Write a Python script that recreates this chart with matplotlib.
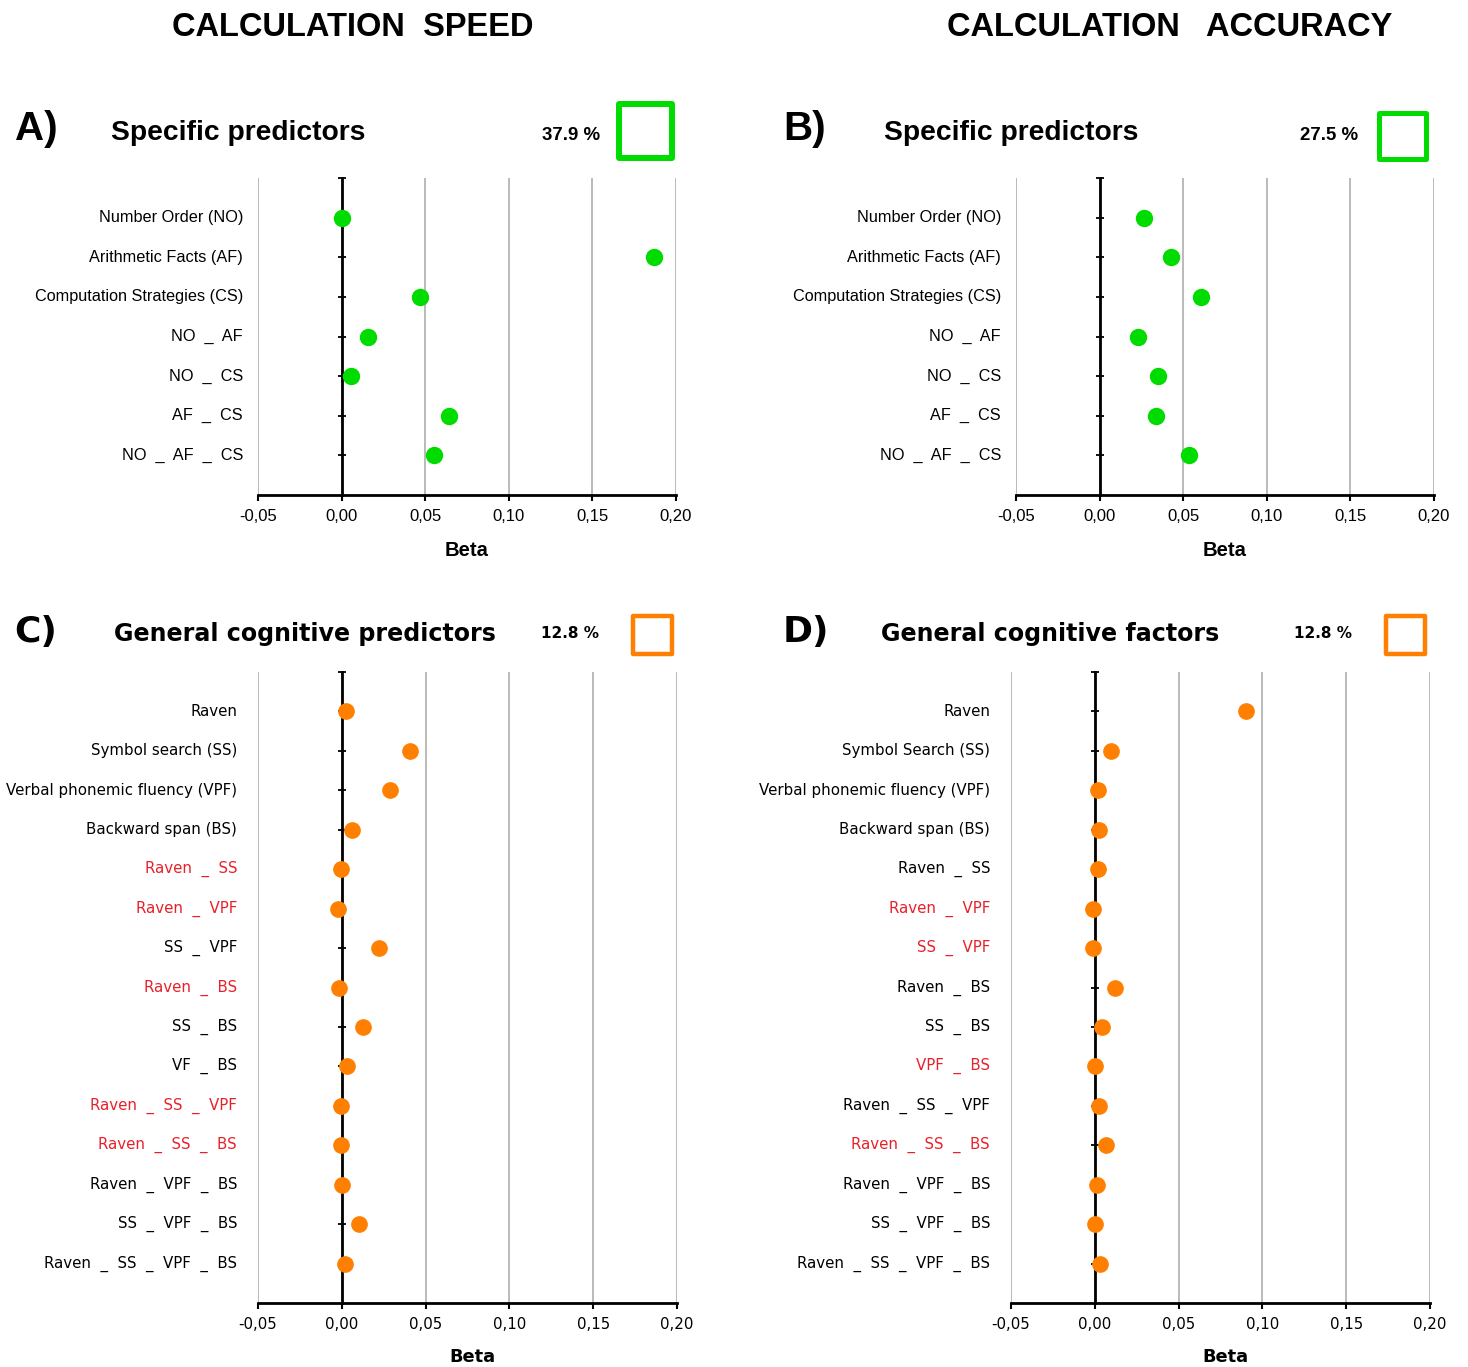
import matplotlib
matplotlib.use("Agg")
import matplotlib.pyplot as plt
import matplotlib.transforms as mtransforms
from matplotlib.patches import Rectangle

W, H = 1468, 1367

# ---------------- data ----------------
labels_a = ["Number Order (NO)", "Arithmetic Facts (AF)", "Computation Strategies (CS)",
            "NO  _  AF", "NO  _  CS", "AF  _  CS", "NO  _  AF  _  CS"]
beta_a = [0.000, 0.187, 0.047, 0.0155, 0.0055, 0.0645, 0.055]

labels_b = labels_a
beta_b = [0.0263, 0.0425, 0.0605, 0.0232, 0.0347, 0.0335, 0.0533]

labels_c = ["Raven", "Symbol search (SS)", "Verbal phonemic fluency (VPF)", "Backward span (BS)",
            "Raven  _  SS", "Raven  _  VPF", "SS  _  VPF", "Raven  _  BS", "SS  _  BS", "VF  _  BS",
            "Raven  _  SS  _  VPF", "Raven  _  SS  _  BS", "Raven  _  VPF  _  BS",
            "SS  _  VPF  _  BS", "Raven  _  SS  _  VPF  _  BS"]
beta_c = [0.0025, 0.0408, 0.0288, 0.0062, -0.0006, -0.0024, 0.0222, -0.0018, 0.0126,
          0.0030, -0.0006, -0.0006, 0.0002, 0.0104, 0.0020]
red_c = [False, False, False, False, True, True, False, True, False, False,
         True, True, False, False, False]

labels_d = ["Raven", "Symbol Search (SS)", "Verbal phonemic fluency (VPF)", "Backward span (BS)",
            "Raven  _  SS", "Raven  _  VPF", "SS  _  VPF", "Raven  _  BS", "SS  _  BS", "VPF  _  BS",
            "Raven  _  SS  _  VPF", "Raven  _  SS  _  BS", "Raven  _  VPF  _  BS",
            "SS  _  VPF  _  BS", "Raven  _  SS  _  VPF  _  BS"]
beta_d = [0.0900, 0.0096, 0.0018, 0.0024, 0.0018, -0.0012, -0.0012, 0.0120, 0.0042,
          0.0000, 0.0024, 0.0066, 0.0012, 0.0000, 0.0030]
red_d = [False, False, False, False, False, True, True, False, False, True,
         False, True, False, False, False]

xticks = [-0.05, 0.00, 0.05, 0.10, 0.15, 0.20]
xtick_labels = ["-0,05", "0,00", "0,05", "0,10", "0,15", "0,20"]

pct = ["37.9 %", "27.5 %", "12.8 %", "12.8 %"]
panel_titles = ["Specific predictors", "Specific predictors",
                "General cognitive predictors", "General cognitive factors"]
panel_letters = ["A)", "B)", "C)", "D)"]

GREEN = "#00dc00"
ORANGE = "#ff8000"
RED = "#e8202a"

fig = plt.figure(figsize=(W / 100, H / 100), dpi=100)


def px_rect(l, t, r, b):
    return [l / W, 1 - b / H, (r - l) / W, (b - t) / H]


def fx(x):
    return x / W


def fy(y):
    return 1 - y / H


def make_panel(rect, labels, vals, color, reds, fam, lab_size, tick_size, lab_off, msize):
    ax = fig.add_axes(rect)
    n = len(labels)
    ys = list(range(1, n + 1))
    ax.set_xlim(-0.05, 0.20)
    ax.set_ylim(n + 1, 0)
    ax.set_xticks(xticks)
    ax.set_xticklabels(xtick_labels, fontsize=tick_size, family=fam)
    ax.xaxis.grid(True, color="#b4b4b4", lw=1.3)
    ax.set_axisbelow(True)
    for s in ["top", "right"]:
        ax.spines[s].set_visible(False)
    ax.spines["left"].set_position(("data", 0))
    ax.spines["left"].set_linewidth(2)
    ax.spines["bottom"].set_linewidth(2)
    ax.set_yticks(list(range(0, n + 1)))
    ax.set_yticklabels([])
    ax.tick_params(axis="y", direction="inout", length=6, width=1.3)
    ax.tick_params(axis="x", direction="out", length=4, width=1.5, pad=6)
    ax.plot(vals, ys, "o", color=color, ms=msize, mec=color, zorder=5, clip_on=False)
    tr = mtransforms.blended_transform_factory(ax.transAxes, ax.transData)
    for i, lab in enumerate(labels):
        c = RED if (reds and reds[i]) else "black"
        ax.text(lab_off, ys[i], lab, transform=tr, ha="right", va="center",
                fontsize=lab_size, family=fam, color=c)
    return ax


axA = make_panel(px_rect(258, 178, 676, 495), labels_a, beta_a, GREEN, None,
                 "Liberation Sans", 11.7, 12, -0.036, 11.5)
axB = make_panel(px_rect(1016, 178, 1434, 495), labels_b, beta_b, GREEN, None,
                 "Liberation Sans", 11.7, 12, -0.036, 11.5)
axC = make_panel(px_rect(258, 672, 677, 1303), labels_c, beta_c, ORANGE, red_c,
                 "DejaVu Sans", 10.8, 10.8, -0.05, 11)
axD = make_panel(px_rect(1011, 672, 1430, 1303), labels_d, beta_d, ORANGE, red_d,
                 "DejaVu Sans", 10.8, 10.8, -0.05, 11)

# column titles
fig.text(fx(353), fy(27), "CALCULATION  SPEED", ha="center", va="center",
         fontsize=23.5, fontweight="bold", family="Liberation Sans")
fig.text(fx(1170), fy(27), "CALCULATION   ACCURACY", ha="center", va="center",
         fontsize=23.5, fontweight="bold", family="Liberation Sans")

# panel headers
hdr = [
    (15, 129, 111, 133, 542, 135, "Liberation Sans", 29, 20.3, 13.4),
    (783, 129, 884, 133, 1300, 136, "Liberation Sans", 29, 20.3, 13.4),
    (14, 632, 114, 634, 541, 634, "DejaVu Sans", 26, 17.1, 11),
    (783, 632, 881, 634, 1294, 634, "DejaVu Sans", 26, 17.1, 11),
]
for k, (lx, ly, tx, ty, px_, py_, fam, s1, s2, s3) in enumerate(hdr):
    fig.text(fx(lx), fy(ly), panel_letters[k], ha="left", va="center",
             fontsize=s1, fontweight="bold", family=fam)
    fig.text(fx(tx), fy(ty), panel_titles[k], ha="left", va="center",
             fontsize=s2, fontweight="bold", family=fam)
    fig.text(fx(px_), fy(py_), pct[k], ha="left", va="center",
             fontsize=s3, fontweight="bold", family=fam)

# colored squares
squares = [
    (619, 104, 672, 158, GREEN, 4.3),
    (1378.5, 112.5, 1425.5, 158.5, GREEN, 3.6),
    (633, 616, 672, 654, ORANGE, 3.2),
    (1386, 616, 1425, 654, ORANGE, 3.2),
]
for (l, t, r, b, c, lw) in squares:
    fig.patches.append(Rectangle((fx(l), fy(b)), (r - l) / W, (b - t) / H,
                                 transform=fig.transFigure, fill=False,
                                 edgecolor=c, lw=lw, joinstyle="round"))

# Beta labels
fig.text(fx(467), fy(550), "Beta", ha="center", va="center", fontsize=14.6,
         fontweight="bold", family="Liberation Sans")
fig.text(fx(1225), fy(550), "Beta", ha="center", va="center", fontsize=14.6,
         fontweight="bold", family="Liberation Sans")
fig.text(fx(472), fy(1357), "Beta", ha="center", va="center", fontsize=12.8,
         fontweight="bold", family="DejaVu Sans")
fig.text(fx(1225), fy(1357), "Beta", ha="center", va="center", fontsize=12.8,
         fontweight="bold", family="DejaVu Sans")

fig.savefig("out.png", dpi=100, facecolor="white")
